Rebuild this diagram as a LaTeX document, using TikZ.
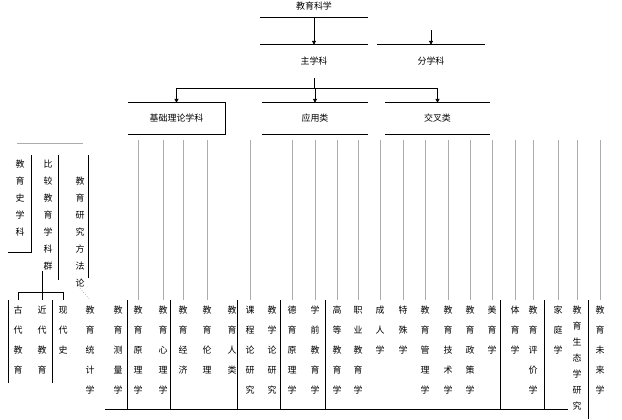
\documentclass[tikz,border=0pt]{standalone}
\usepackage{fontspec}
\setmainfont{Noto Sans CJK SC}
\usetikzlibrary{arrows.meta,positioning}

% vertical text: one character per line
\makeatletter
\def\vt@go#1{\ifx#1\@nil\else\hbox to 1em{\hss#1\hss}\expandafter\vt@go\fi}
\newcommand\vtxt[1]{\vbox{\edef\vt@list{#1}\expandafter\vt@go\vt@list\@nil}}
\makeatother

\begin{document}
\begin{tikzpicture}[
  x=1bp,y=-1bp,
  head/.style={minimum width=108bp,inner sep=0pt,font=\fontsize{9}{10}\selectfont},
  cat/.style={minimum height=31bp,inner sep=0pt,font=\fontsize{9}{10}\selectfont},
  leaf/.style={anchor=north,inner xsep=1bp,inner ysep=6bp,font=\fontsize{9}{20}\selectfont},
  col/.style={anchor=north,inner sep=1bp,font=\fontsize{9}{17}\selectfont},
  rule/.style={line width=0.9bp},
  link/.style={line width=0.7bp,color=gray!65},
  arr/.style={-{Triangle[length=4bp,width=4bp]},line width=0.9bp}
]
\useasboundingbox (0,0) rectangle (622,419);

% top levels
\node[head,minimum height=22bp] (t0) at (314,6) {教育科学};
\node[head,minimum height=33bp] (s1) at (314,61.5) {主学科};
\node[head,minimum height=33bp] (s2) at (431,61.5) {分学科};
\coordinate (s2in) at (431,30);
\draw[rule] (t0.south west) -- (t0.south east);
\draw[rule] (s1.north west) -- (s1.north east);
\draw[rule] (s2.north west) -- (s2.north east);
\draw[arr] (t0.south) -- (s1.north);
\draw[arr] (s2in) -- (s2.north);

% categories
\coordinate (hub) at (0,88);
\node[cat,minimum width=97bp] (b1) at (176.5,118.5) {基础理论学科};
\node[cat,minimum width=106bp] (b2) at (315,118.5) {应用类};
\node[cat,minimum width=105bp] (b3) at (437.5,118.5) {交叉类};
\draw[rule] (b1.north west) -- (b1.north east) -- (b1.south east) -- (b1.south west);
\foreach \b in {b2,b3}
  \draw[rule] (\b.north west) -- (\b.north east) (\b.south west) -- (\b.south east);
\draw[rule] (s1.south) -- (s1.south |- hub);
\draw[rule] (b1.north |- hub) -- (b3.north |- hub);
\foreach \b in {b1,b2,b3}
  \draw[arr] (\b.north |- hub) -- (\b.north);

% left group
\node[col] (c1) at (20,159) {\vtxt{教育史学科}};
\node[col] (c2) at (48,159) {\vtxt{比较教育学科群}};
\node[col] (c3) at (80,176) {\vtxt{教育研究方法论}};
\draw[link] (17,143) -- (83,143);
\draw[rule] (31,155) -- (31,252) -- (8,252);
\draw[rule] (58,155) -- (58,280);
\draw[rule] (88,155) -- (88,278);

\coordinate (br) at (0,292);
\foreach \n/\x/\txt in {lb1/18/古代教育,lb2/42/近代教育,lb3/63/现代史}
  \node[leaf] (\n) at (\x,300) {\vtxt{\txt}};
\draw[rule] (lb2.north |- c2.south) -- (lb2.north |- br);
\draw[rule] (lb1.north) -- (lb1.north |- br) -- (lb3.north |- br) -- (lb3.north);
\draw[rule] (lb2.north |- br) -- (lb2.north);

% leaves
\foreach \n/\x/\txt in {l1/90/教育统计学,l2/118/教育测量学,l3/138/教育原理学,
    l4/163/教育心理学,l5/183/教育经济,l6/207/教育伦理,l7/232/教育人类,
    l8/250/课程论研究,l9/272/教学论研究,l10/292/德育原理学,l11/315/学前教育学,
    l12/337/高等教育学,l13/358/职业教育学,l14/380/成人学,l15/403/特殊学,
    l16/425/教育管理学,l17/448/教育技术学,l18/470/教育政策学,l19/492/美育学,
    l20/515/体育学,l21/533/教育评价学,l22/558/家庭学,l24/600/教育未来学}
  \node[leaf] (\n) at (\x,300) {\vtxt{\txt}};
\node[leaf,font=\fontsize{9}{16}\selectfont] (l23) at (577,300) {\vtxt{教育生态学研究}};

\coordinate (vtop) at (0,140);
\foreach \l in {l3,l4,l5,l6,l8,l10,l11,l12,l13,l14,l15,l16,l17,l18,l19,l20,l21,l22,l23,l24}
  \draw[link] (\l.north |- vtop) -- (\l.north);
\draw[link,dotted] (c3.south) -- (l1.north);

% separators and base line
\foreach \x in {8,52}
  \draw[rule] (\x,300) -- (\x,383);
\foreach \x in {127,170,237,280,325,500,544}
  \draw[rule] (\x,300) -- (\x,410);
\draw[rule] (588,300) -- (588,419);
\draw[rule] (105,409) -- (568,409);
\end{tikzpicture}
\end{document}
